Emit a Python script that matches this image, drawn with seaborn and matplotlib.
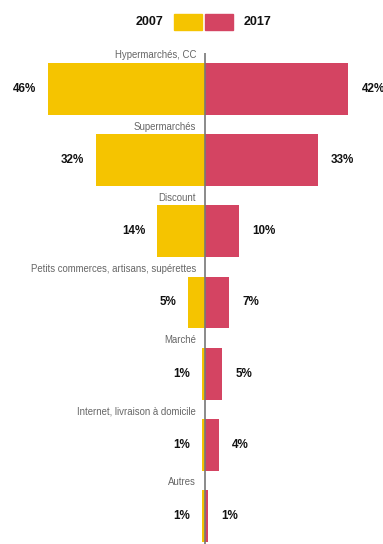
import matplotlib
matplotlib.use("Agg")
import matplotlib.pyplot as plt
import seaborn as sns
import pandas as pd
from matplotlib.patches import Rectangle

categories = ["Hypermarchés, CC", "Supermarchés", "Discount",
              "Petits commerces, artisans, supérettes", "Marché",
              "Internet, livraison à domicile", "Autres"]
values_2007 = [46, 32, 14, 5, 1, 1, 1]
values_2017 = [42, 33, 10, 7, 5, 4, 1]
series = ["2007", "2017"]

c07 = "#F5C400"
c17 = "#D44462"

sns.set_theme(style="white")
plt.rcParams['font.family'] = ['Liberation Sans', 'DejaVu Sans']

W, H = 383, 544
fig = plt.figure(figsize=(W / 100, H / 100), dpi=100)
top_px, bot_px = 53, 544
ax = fig.add_axes([0, 0, 1, (bot_px - top_px) / H])

df = pd.DataFrame({
    "cat": categories * 2,
    "val": [-v for v in values_2007] + values_2017,
    "year": ["2007"] * len(categories) + ["2017"] * len(categories),
})

sns.barplot(data=df, y="cat", x="val", hue="year", hue_order=series,
            palette=[c07, c17], orient="h", dodge=False, width=0.73,
            legend=False, ax=ax, linewidth=0, saturation=1)

pxper = 3.41
ax.set_xlim(-205 / pxper, (W - 205) / pxper)
pitch = 71.2
ax.set_ylim(6 + (544 - 516) / pitch, -(89 - top_px) / pitch)
ax.axis("off")
ax.axvline(0, color="#777777", lw=1.2, zorder=5)

for i, (cat, a, b) in enumerate(zip(categories, values_2007, values_2017)):
    ax.text(-2.6, i - 0.43, cat, ha="right", va="baseline", fontsize=6.9,
            color="#666666", clip_on=False)
    ax.text(-a - 3.4, i, f"{a}%", ha="right", va="center", fontsize=8.4,
            fontweight="bold", color="#111111", clip_on=False)
    ax.text(b + 3.9, i, f"{b}%", ha="left", va="center", fontsize=8.4,
            fontweight="bold", color="#111111", clip_on=False)

# legend
def fx(px):
    return px / W

def fy(py):
    return 1 - py / H

fig.patches.append(Rectangle((fx(174), fy(30)), 28 / W, 16 / H, color=c07,
                             transform=fig.transFigure, figure=fig))
fig.patches.append(Rectangle((fx(205), fy(30)), 28 / W, 16 / H, color=c17,
                             transform=fig.transFigure, figure=fig))
fig.text(fx(163), fy(22), "2007", ha="right", va="center", fontsize=9,
         fontweight="bold", color="#111111")
fig.text(fx(244), fy(22), "2017", ha="left", va="center", fontsize=9,
         fontweight="bold", color="#111111")

fig.savefig("out.png", dpi=100)
